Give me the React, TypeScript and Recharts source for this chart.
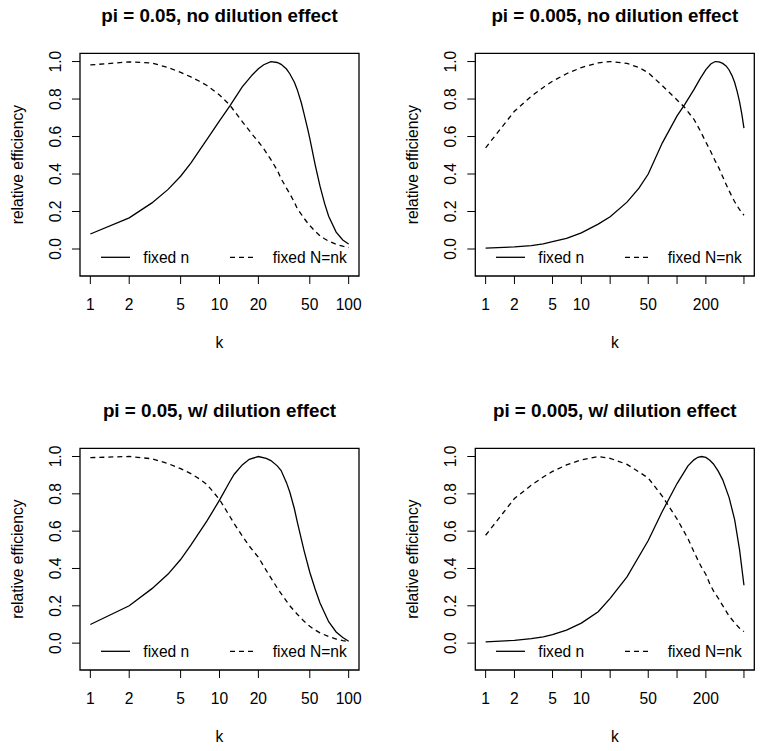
import { Legend, Line, LineChart, ReferenceArea, XAxis, YAxis } from 'recharts';

const FONT = '"Liberation Sans", Arial, Helvetica, sans-serif';
const BASE = 15.6;

// pi = 0.05, no dilution effect
const kA = [1, 2, 3, 4, 5, 6, 7, 8, 10, 12, 15, 18, 20, 22, 25, 28, 30, 33, 35, 38, 40, 43, 45, 48, 50, 55, 60, 65, 70, 80, 90, 100];
const fixedNA = [0.08, 0.166, 0.246, 0.318, 0.388, 0.458, 0.526, 0.585, 0.683, 0.762, 0.865, 0.93, 0.962, 0.983, 1.0, 0.995, 0.985, 0.96, 0.935, 0.89, 0.85, 0.78, 0.725, 0.645, 0.59, 0.45, 0.335, 0.245, 0.175, 0.09, 0.048, 0.027];
const fixedNkA = [0.982, 0.998, 0.992, 0.968, 0.942, 0.918, 0.895, 0.872, 0.822, 0.768, 0.68, 0.61, 0.572, 0.535, 0.477, 0.42, 0.375, 0.325, 0.295, 0.25, 0.215, 0.185, 0.165, 0.14, 0.125, 0.095, 0.07, 0.055, 0.042, 0.025, 0.015, 0.008];

// pi = 0.005, no dilution effect
const kB = [1, 2, 3, 4, 5, 7, 10, 15, 20, 30, 40, 50, 70, 100, 120, 150, 175, 200, 225, 250, 275, 300, 325, 350, 375, 400, 425, 450, 475, 500];
const fixedNB = [0.005, 0.011, 0.018, 0.027, 0.039, 0.057, 0.086, 0.133, 0.172, 0.25, 0.325, 0.4, 0.565, 0.71, 0.77, 0.85, 0.91, 0.957, 0.987, 1.0, 0.998, 0.99, 0.977, 0.955, 0.925, 0.888, 0.84, 0.785, 0.72, 0.645];
const fixedNkB = [0.54, 0.735, 0.815, 0.862, 0.895, 0.935, 0.968, 0.993, 1.0, 0.99, 0.968, 0.94, 0.872, 0.795, 0.755, 0.692, 0.63, 0.57, 0.52, 0.47, 0.43, 0.385, 0.345, 0.31, 0.28, 0.252, 0.23, 0.21, 0.195, 0.18];

// pi = 0.05, w/ dilution effect
const kC = [1, 2, 3, 4, 5, 6, 7, 8, 10, 12, 13, 15, 17, 20, 23, 25, 28, 30, 33, 35, 38, 40, 45, 50, 55, 60, 70, 80, 90, 100];
const fixedNC = [0.1, 0.2, 0.292, 0.37, 0.448, 0.525, 0.595, 0.655, 0.766, 0.865, 0.905, 0.955, 0.985, 1.0, 0.99, 0.978, 0.95, 0.925, 0.86, 0.81, 0.72, 0.65, 0.5, 0.38, 0.29, 0.215, 0.115, 0.06, 0.03, 0.01];
const fixedNkC = [0.994, 1.0, 0.988, 0.962, 0.935, 0.908, 0.88, 0.85, 0.77, 0.68, 0.64, 0.575, 0.52, 0.46, 0.39, 0.35, 0.295, 0.265, 0.225, 0.2, 0.172, 0.155, 0.118, 0.09, 0.07, 0.055, 0.035, 0.022, 0.014, 0.008];

// pi = 0.005, w/ dilution effect
const kD = [1, 2, 3, 4, 5, 7, 10, 15, 20, 30, 50, 70, 100, 130, 150, 165, 180, 200, 220, 240, 270, 300, 350, 400, 450, 500];
const fixedND = [0.007, 0.015, 0.024, 0.034, 0.045, 0.07, 0.107, 0.168, 0.24, 0.355, 0.55, 0.705, 0.855, 0.95, 0.982, 0.996, 1.0, 0.995, 0.98, 0.96, 0.92, 0.875, 0.78, 0.66, 0.5, 0.31];
const fixedNkD = [0.578, 0.775, 0.846, 0.89, 0.92, 0.955, 0.982, 1.0, 0.99, 0.958, 0.885, 0.788, 0.665, 0.56, 0.49, 0.445, 0.407, 0.368, 0.317, 0.28, 0.24, 0.201, 0.145, 0.108, 0.08, 0.062];

const leftTicks = [1, 2, 5, 10, 20, 50, 100];
const rightTicks = [1, 2, 5, 10, 20, 50, 100, 200, 500];
const rightLabels = [1, 2, 5, 10, 50, 200];
const yTicks = [0, 0.2, 0.4, 0.6, 0.8, 1.0];

const LEFT_DOMAIN: [number, number] = [0.8318, 120.23];
const RIGHT_DOMAIN: [number, number] = [0.78, 641.2];
const Y_DOMAIN: [number, number] = [-0.144, 1.044];

const xTick = (shown: number[]) => (props: any) => {
  const { x, y, payload } = props;
  if (!shown.includes(payload.value)) return <g />;
  return (
    <text x={x} y={y + 26} textAnchor="middle" fontSize={BASE} fontFamily={FONT} fill="#000">
      {payload.value}
    </text>
  );
};

const yTick = (props: any) => {
  const { x, y, payload } = props;
  const bx = x - 11.3;
  return (
    <text
      x={bx}
      y={y}
      transform={`rotate(-90, ${bx}, ${y})`}
      textAnchor="middle"
      fontSize={BASE}
      fontFamily={FONT}
      fill="#000"
    >
      {Number(payload.value).toFixed(1)}
    </text>
  );
};

function LegendKey({ width }: { width: number }) {
  return (
    <svg width={width} height={24} style={{ display: 'block', overflow: 'visible' }}>
      <line x1={21} x2={50} y1={11.3} y2={11.3} stroke="#000" strokeWidth={1.3} />
      <text x={63.3} y={17.3} fontSize={BASE} fontFamily={FONT} fill="#000">
        fixed n
      </text>
      <line x1={150} x2={173.3} y1={11.3} y2={11.3} stroke="#000" strokeWidth={1.3} strokeDasharray="5 4" />
      <text x={192.7} y={17.3} fontSize={BASE} fontFamily={FONT} fill="#000">
        fixed N=nk
      </text>
    </svg>
  );
}

interface PanelProps {
  title: string;
  k: number[];
  fixedN: number[];
  fixedNk: number[];
  col: number;
  row: number;
}

function Panel({ title, k, fixedN, fixedNk, col, row }: PanelProps) {
  const data = k.map((kk, i) => ({ k: kk, fixedN: fixedN[i], fixedNk: fixedNk[i] }));
  const wide = col === 1;
  const height = row === 0 ? 375 : 376;
  const boxLeft = wide ? 93.3 : 80;
  const boxRight = wide ? 372.3 : 359;
  const boxTop = row === 0 ? 53.3 : 73.3;
  const boxBottom = row === 0 ? 276 : 295;
  const xDomain = wide ? RIGHT_DOMAIN : LEFT_DOMAIN;
  const xTicks = wide ? rightTicks : leftTicks;
  const xLabels = wide ? rightLabels : leftTicks;

  return (
    <div style={{ position: 'absolute', left: col * 382, top: row * 375 }}>
      <LineChart
        width={382}
        height={height}
        data={data}
        margin={{ top: boxTop, right: 382 - boxRight, bottom: height - boxBottom - 60, left: boxLeft - 60 }}
      >
        <XAxis
          dataKey="k"
          type="number"
          scale="log"
          domain={xDomain}
          allowDataOverflow
          ticks={xTicks}
          interval={0}
          height={60}
          axisLine={false}
          stroke="#000"
          tickLine={{ stroke: '#000' }}
          tickSize={8}
          tickMargin={0}
          tick={xTick(xLabels)}
          label={(p: any) => {
            const vb = p.viewBox;
            return (
              <text x={vb.x + vb.width / 2} y={vb.y + 71.5} textAnchor="middle" fontSize={BASE} fontFamily={FONT} fill="#000">
                k
              </text>
            );
          }}
        />
        <YAxis
          type="number"
          domain={Y_DOMAIN}
          allowDataOverflow
          ticks={yTicks}
          interval={0}
          width={60}
          axisLine={false}
          stroke="#000"
          tickLine={{ stroke: '#000' }}
          tickSize={8}
          tickMargin={0}
          tick={yTick}
          label={(p: any) => {
            const vb = p.viewBox;
            const bx = vb.x + vb.width - 57;
            const cy = vb.y + vb.height / 2;
            return (
              <text
                x={bx}
                y={cy}
                transform={`rotate(-90, ${bx}, ${cy})`}
                textAnchor="middle"
                fontSize={BASE}
                fontFamily={FONT}
                fill="#000"
              >
                relative efficiency
              </text>
            );
          }}
        />
        <ReferenceArea
          x1={xDomain[0]}
          x2={xDomain[1]}
          y1={Y_DOMAIN[0]}
          y2={Y_DOMAIN[1]}
          fill="none"
          stroke="#000"
          strokeWidth={1.3}
          ifOverflow="visible"
          label={(p: any) => {
            const vb = p.viewBox;
            return (
              <text
                x={vb.x + vb.width / 2}
                y={vb.y - 31.7}
                textAnchor="middle"
                fontSize={18.8}
                fontWeight="bold"
                fontFamily={FONT}
                fill="#000"
              >
                {title}
              </text>
            );
          }}
        />
        <Line
          dataKey="fixedN"
          type="linear"
          stroke="#000"
          strokeWidth={1.3}
          dot={false}
          activeDot={false}
          isAnimationActive={false}
        />
        <Line
          dataKey="fixedNk"
          type="linear"
          stroke="#000"
          strokeWidth={1.3}
          strokeDasharray="5 4"
          dot={false}
          activeDot={false}
          isAnimationActive={false}
        />
        <Legend
          layout="horizontal"
          verticalAlign="middle"
          align="center"
          wrapperStyle={{ left: boxLeft, top: boxBottom - 30, width: boxRight - boxLeft, height: 24 }}
          content={() => <LegendKey width={boxRight - boxLeft} />}
        />
      </LineChart>
    </div>
  );
}

export default function App() {
  return (
    <div
      style={{
        position: 'absolute',
        left: 0,
        top: 0,
        width: 764,
        height: 751,
        background: '#fff',
        fontFamily: FONT,
      }}
    >
      <Panel title="pi = 0.05, no dilution effect" k={kA} fixedN={fixedNA} fixedNk={fixedNkA} col={0} row={0} />
      <Panel title="pi = 0.005, no dilution effect" k={kB} fixedN={fixedNB} fixedNk={fixedNkB} col={1} row={0} />
      <Panel title="pi = 0.05, w/ dilution effect" k={kC} fixedN={fixedNC} fixedNk={fixedNkC} col={0} row={1} />
      <Panel title="pi = 0.005, w/ dilution effect" k={kD} fixedN={fixedND} fixedNk={fixedNkD} col={1} row={1} />
    </div>
  );
}
